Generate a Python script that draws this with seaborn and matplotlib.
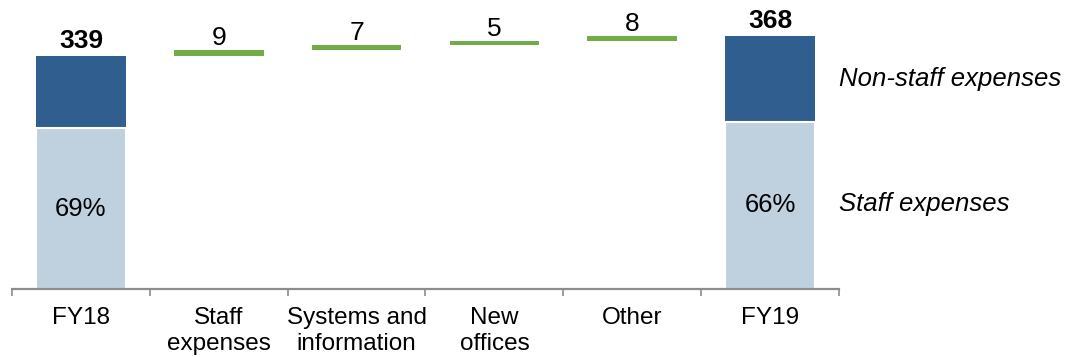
import matplotlib
matplotlib.use("Agg")
import matplotlib.pyplot as plt
import matplotlib.transforms as mtransforms
import numpy as np
import pandas as pd
import seaborn as sns

# Operating expenses bridge, FY18 -> FY19
years = ["FY18", "FY19"]
year_totals = [339, 368]
staff_share = [0.69, 0.66]          # share of staff expenses in each year's total

drivers = ["Staff\nexpenses", "Systems and\ninformation", "New\noffices", "Other"]
driver_values = [9, 7, 5, 8]

segment_labels = ["Non-staff expenses", "Staff expenses"]

order = [years[0]] + drivers + [years[1]]

DARK = "#2F5E8F"
LIGHT = "#BFD0DF"
GREEN = "#70AD47"
AXIS_GREY = "#8C8C8C"

sns.set_theme(style="white")
plt.rcParams["font.family"] = ["Liberation Sans", "DejaVu Sans"]

totals_df = pd.DataFrame({"category": years, "value": year_totals})
staff_df = pd.DataFrame({
    "category": years,
    "value": [t * s for t, s in zip(year_totals, staff_share)],
})
drivers_df = pd.DataFrame({"category": drivers, "value": driver_values})
drivers_df["start"] = year_totals[0] + np.concatenate([[0], np.cumsum(driver_values)[:-1]])

fig = plt.figure(figsize=(10.67, 3.57), dpi=100)
ax = fig.add_axes([12 / 1067, 68 / 357, 827 / 1067, 289 / 357])

bar_w = 0.65

# full totals (non-staff shows on top), then staff part drawn over the lower portion
sns.barplot(data=totals_df, x="category", y="value", order=order, color=DARK,
            width=bar_w, errorbar=None, saturation=1, edgecolor="none",
            linewidth=0, ax=ax)
sns.barplot(data=staff_df, x="category", y="value", order=order, color=LIGHT,
            width=bar_w, errorbar=None, saturation=1, edgecolor="white",
            linewidth=1.5, ax=ax)
# floating increments
sns.barplot(data=drivers_df, x="category", y="value", order=order, color=GREEN,
            width=bar_w, errorbar=None, saturation=1, edgecolor="none",
            linewidth=0, bottom=drivers_df["start"].to_numpy(), ax=ax)

total_bars, staff_bars, driver_bars = ax.containers[0], ax.containers[1], ax.containers[2]

ax.bar_label(total_bars, labels=[str(v) for v in year_totals], padding=2,
             fontsize=19, fontweight="bold", color="black")
ax.bar_label(staff_bars, labels=[f"{round(s * 100)}%" for s in staff_share],
             label_type="center", fontsize=18.5, color="black")
ax.bar_label(driver_bars, labels=[str(v) for v in driver_values], padding=0,
             fontsize=19, color="black")

# segment captions to the right of the last bar
trans = mtransforms.blended_transform_factory(ax.transAxes, ax.transData)
last_total = year_totals[-1]
last_staff = last_total * staff_share[-1]
ax.annotate(segment_labels[0], xy=(1.0, (last_staff + last_total) / 2), xycoords=trans,
            xytext=(0, 0), textcoords="offset points",
            ha="left", va="center", fontsize=18.5, style="italic", color="black")
ax.annotate(segment_labels[1], xy=(1.0, last_staff / 2), xycoords=trans,
            xytext=(0, 1), textcoords="offset points",
            ha="left", va="center", fontsize=18.5, style="italic", color="black")

ax.set_ylim(0, 420)
ax.set_xlim(-0.5, len(order) - 0.5)
ax.set_xlabel("")
ax.set_ylabel("")
ax.set_yticks([])

for side in ["top", "right", "left"]:
    ax.spines[side].set_visible(False)
ax.spines["bottom"].set_color(AXIS_GREY)
ax.spines["bottom"].set_linewidth(1.6)

ax.set_xticks(range(len(order)))
ax.set_xticklabels(order, fontsize=17.5, linespacing=1.25)
ax.tick_params(axis="x", which="major", bottom=True, length=0, pad=13, colors="black")
ax.set_xticks(np.arange(-0.5, len(order), 1.0), minor=True)
ax.tick_params(axis="x", which="minor", bottom=True, length=5, width=1.2,
               color=AXIS_GREY, direction="out")

fig.savefig("out.png", dpi=100)
